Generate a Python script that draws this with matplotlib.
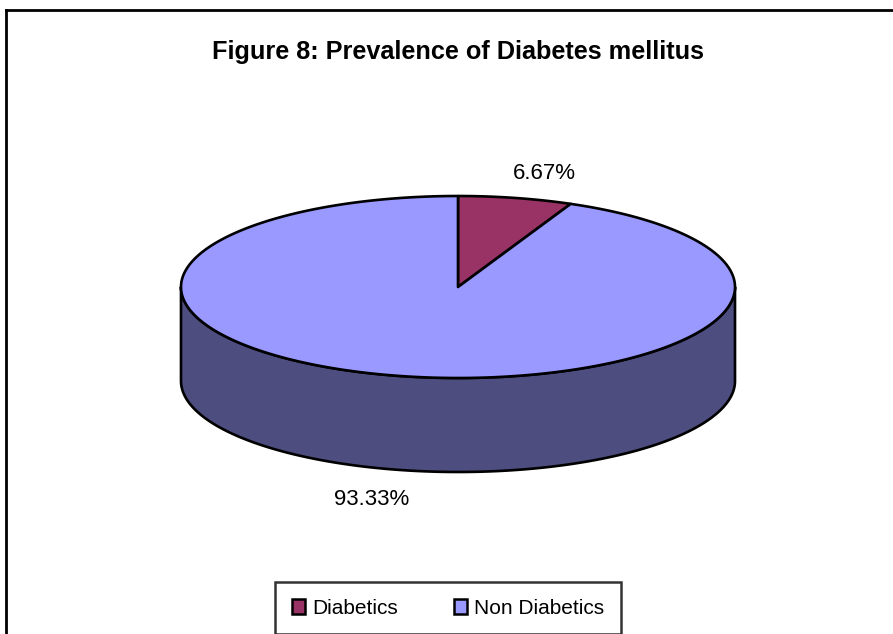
import numpy as np
import matplotlib
matplotlib.use('Agg')
import matplotlib.pyplot as plt
from matplotlib.patches import Polygon, Patch
from matplotlib.lines import Line2D

# Data
labels = ['Diabetics', 'Non Diabetics']
values = [6.67, 93.33]
top_colors = ['#993366', '#9999FF']
side_colors = ['#4D1A33', '#4D4D80']
title = 'Figure 8: Prevalence of Diabetes mellitus'

FONT = ['Liberation Sans', 'DejaVu Sans']

W, H = 893, 634
# pie geometry in pixels
CX, CY = 458, 287
A, B = 277, 91
DEPTH = 94


def ell(theta_deg, dy=0.0):
    t = np.radians(theta_deg)
    return CX + A * np.cos(t), CY - B * np.sin(t) + dy


fig = plt.figure(figsize=(W / 100, H / 100), dpi=100)
ax = fig.add_axes([0, 0, 1, 1])
ax.set_xlim(0, W)
ax.set_ylim(H, 0)
ax.axis('off')

# slice angles: start at 12 o'clock, clockwise
fracs = np.array(values) / np.sum(values)
starts = 90 - 360 * np.concatenate([[0], np.cumsum(fracs)[:-1]])
ends = starts - 360 * fracs

# side walls (front half: angles 180..360)
for s, e, col in zip(starts, ends, side_colors):
    hi, lo = s, e
    for off in (0, 360, -360):
        a0 = max(lo + off, 180)
        a1 = min(hi + off, 360)
        if a1 <= a0:
            continue
        th = np.linspace(a0, a1, 200)
        xt, yt = ell(th)
        xb, yb = ell(th[::-1], DEPTH)
        pts = np.column_stack([np.concatenate([xt, xb]), np.concatenate([yt, yb])])
        ax.add_patch(Polygon(pts, closed=True, facecolor=col, edgecolor='black',
                             linewidth=1.9, joinstyle='round'))

# top faces
for s, e, col in zip(starts, ends, top_colors):
    th = np.linspace(s, e, 400)
    xt, yt = ell(th)
    pts = np.column_stack([np.concatenate([[CX], xt]), np.concatenate([[CY], yt])])
    ax.add_patch(Polygon(pts, closed=True, facecolor=col, edgecolor='black',
                         linewidth=1.9, joinstyle='round'))

# percentage labels
for s, e, v in zip(starts, ends, values):
    mid = np.radians((s + e) / 2)
    x = CX + 1.5 * A * np.cos(mid)
    y = CY - 1.28 * B * np.sin(mid)
    if np.sin(mid) < 0:
        y += DEPTH + 5
    ax.text(x, y, f'{v:.2f}%', ha='center', va='center', fontsize=16,
            family=FONT, color='black')

fig.text(458 / W, 1 - 52 / H, title, ha='center', va='center', fontsize=18.2,
         fontweight='bold', family=FONT)

# outer chart frame
fig.add_artist(Line2D([6 / W, 6 / W], [0, 1 - 10 / H], color='black', lw=2,
                      transform=fig.transFigure))
fig.add_artist(Line2D([6 / W, 1], [1 - 10 / H, 1 - 10 / H], color='black', lw=2,
                      transform=fig.transFigure))

handles = [Patch(facecolor=c, edgecolor='black', linewidth=1.8) for c in top_colors]
leg = fig.legend(handles, labels, loc='center', bbox_to_anchor=(448 / W, 1 - 608 / H),
                 ncol=2, frameon=True, fancybox=False, edgecolor='black',
                 prop={'family': FONT, 'size': 15}, handlelength=0.62,
                 handleheight=0.72, handletextpad=0.35, columnspacing=2.7,
                 borderpad=0.8, borderaxespad=0)
leg.get_frame().set_linewidth(1.8)

fig.savefig('out.png', dpi=100)
